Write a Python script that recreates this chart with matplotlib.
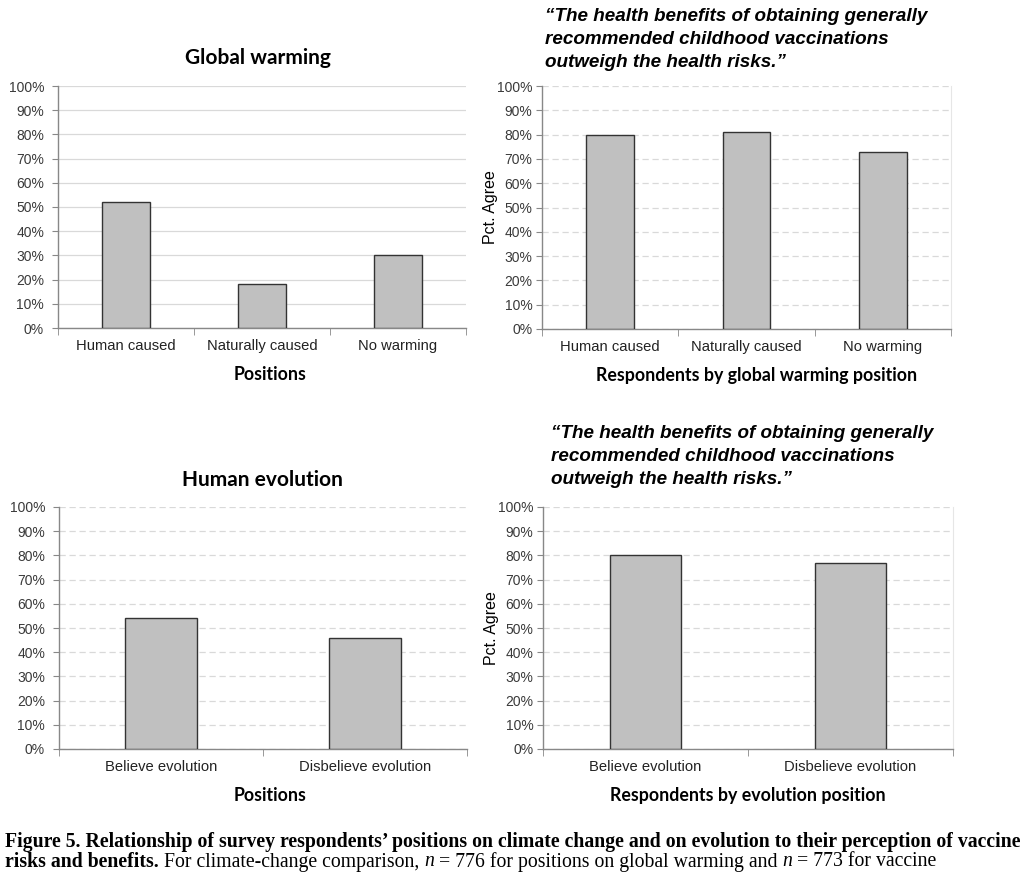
import matplotlib.pyplot as plt
import numpy as np

# data
warming_cats = ['Human caused', 'Naturally caused', 'No warming']
warming_share = [52, 18, 30]
warming_vaccine_agree = [80, 81, 73]

evolution_cats = ['Believe evolution', 'Disbelieve evolution']
evolution_share = [54, 46]
evolution_vaccine_agree = [80, 77]

quote = ('\u201cThe health benefits of obtaining generally\n'
         'recommended childhood vaccinations\n'
         'outweigh the health risks.\u201d')

W, H = 1024, 876
fig = plt.figure(figsize=(W / 100, H / 100), dpi=100)

BAR_COLOR = '#c0c0c0'
EDGE = '#333333'
TICK_COLOR = '#3a3a3a'


def px_axes(left, right, top, bottom):
    return fig.add_axes([left / W, 1 - bottom / H, (right - left) / W, (bottom - top) / H])


def style_axes(ax, cats, values, grid_style, xlabel, xlabel_x=0.5, ylabel=None, frame=False):
    x = np.arange(len(cats))
    ax.bar(x, values, width=0.35, color=BAR_COLOR, edgecolor=EDGE, linewidth=1.0, zorder=3)
    ax.set_xlim(-0.5, len(cats) - 0.5)
    ax.set_ylim(0, 100)
    ax.set_yticks(np.arange(0, 101, 10))
    ax.set_yticklabels([f'{v}%' for v in range(0, 101, 10)],
                       fontsize=10, color=TICK_COLOR, family='Liberation Sans')
    ax.set_xticks(x)
    ax.set_xticklabels(cats, fontsize=10.6, color='#222222', family='Liberation Sans')
    for lab in ax.get_xticklabels():
        lab.set_va('baseline')
    ax.set_xticks(np.arange(-0.5, len(cats), 1.0), minor=True)
    ax.tick_params(axis='x', which='major', length=0, pad=16)
    ax.tick_params(axis='x', which='minor', length=5, color='#888888', direction='out')
    ax.tick_params(axis='y', length=4, color='#888888', pad=3 if ylabel else 6)
    ax.spines['top'].set_visible(False)
    if frame:
        ax.spines['right'].set_color('#e6e6e6')
    else:
        ax.spines['right'].set_visible(False)
    for s in ['left', 'bottom']:
        ax.spines[s].set_color('#888888')
        ax.spines[s].set_linewidth(1.0)
    ax.yaxis.grid(True, color='#d9d9d9', linewidth=0.9, linestyle=grid_style, zorder=0)
    ax.set_axisbelow(True)
    ax.set_xlabel(xlabel, fontsize=12.8, fontweight='bold', family='Lato', labelpad=9)
    ax.xaxis.label.set_x(xlabel_x)
    if ylabel:
        ax.set_ylabel(ylabel, fontsize=11.5, family='Liberation Sans')
        ax.yaxis.set_label_coords(-0.108, 0.5)


# top left
ax1 = px_axes(58, 466, 86, 328)
style_axes(ax1, warming_cats, warming_share, '-', 'Positions', xlabel_x=0.52)
fig.text(258 / W, 1 - 58 / H, 'Global warming', ha='center', va='center',
         fontsize=15, fontweight='bold', family='Lato')

# top right
ax2 = px_axes(542, 951, 86, 329)
style_axes(ax2, warming_cats, warming_vaccine_agree, (0, (5, 3)),
           'Respondents by global warming position', xlabel_x=0.525,
           ylabel='Pct. Agree', frame=True)
fig.text(545 / W, 1 - 8 / H, quote, ha='left', va='top', fontsize=13.6,
         fontweight='bold', fontstyle='italic', family='Liberation Sans', linespacing=1.47)

# bottom left
ax3 = px_axes(59, 467, 507, 749)
style_axes(ax3, evolution_cats, evolution_share, (0, (5, 3)), 'Positions', xlabel_x=0.517)
fig.text(262 / W, 1 - 480 / H, 'Human evolution', ha='center', va='center',
         fontsize=15, fontweight='bold', family='Lato')

# bottom right
ax4 = px_axes(543, 953, 507, 749)
style_axes(ax4, evolution_cats, evolution_vaccine_agree, (0, (5, 3)),
           'Respondents by evolution position', ylabel='Pct. Agree', frame=True)
fig.text(551 / W, 1 - 425 / H, quote, ha='left', va='top', fontsize=13.6,
         fontweight='bold', fontstyle='italic', family='Liberation Sans', linespacing=1.47)

# caption, built from pieces so bold / italic runs line up
renderer = fig.canvas.get_renderer()
cap_size = 14.2
line1 = [('Figure 5. Relationship of survey respondents\u2019 positions on climate change '
          'and on evolution to their perception of vaccine', 'bold', 'normal')]
line2 = [('risks and benefits.', 'bold', 'normal'),
         (' For climate-change comparison, ', 'normal', 'normal'),
         ('n', 'normal', 'italic'),
         (' = 776 for positions on global warming and ', 'normal', 'normal'),
         ('n', 'normal', 'italic'),
         (' = 773 for vaccine', 'normal', 'normal')]

for pieces, ypx in [(line1, 842), (line2, 862)]:
    xpx = 5
    for txt, weight, style in pieces:
        t = fig.text(xpx / W, 1 - ypx / H, txt, ha='left', va='center', fontsize=cap_size,
                     fontweight=weight, fontstyle=style, family='Liberation Serif')
        bb = t.get_window_extent(renderer)
        xpx += bb.width

fig.savefig('out.png', dpi=100)
